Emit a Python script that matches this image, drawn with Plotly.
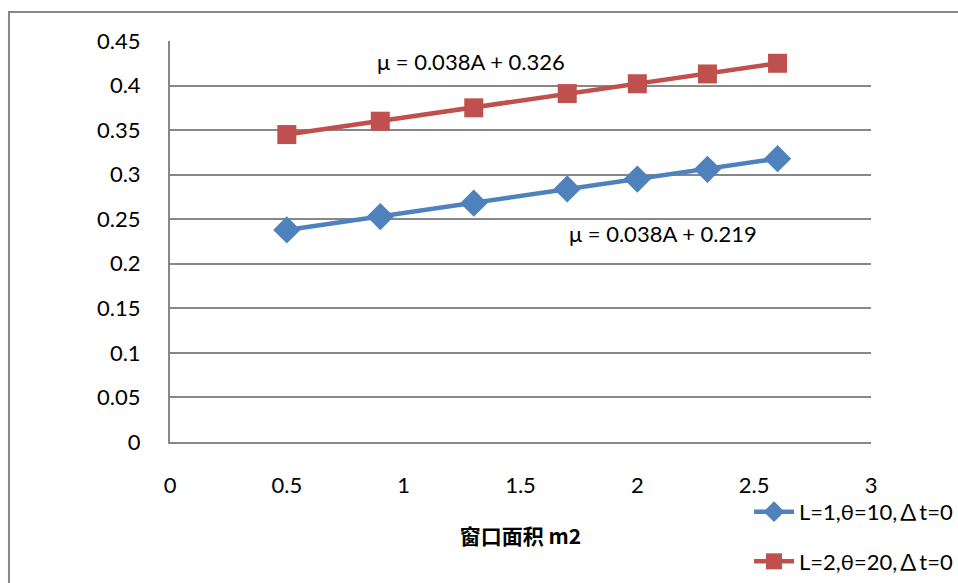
import plotly.graph_objects as go

# Window area (m2) and heat-transfer coefficient for two configurations
area = [0.5, 0.9, 1.3, 1.7, 2.0, 2.3, 2.6]
mu_case1 = [0.238, 0.253, 0.268, 0.284, 0.295, 0.306, 0.318]
mu_case2 = [0.345, 0.360, 0.375, 0.391, 0.402, 0.413, 0.425]
series_names = ["L=1,θ=10,∆t=0", "L=2,θ=20,∆t=0"]
fit_labels = ["μ = 0.038A + 0.219", "μ = 0.038A + 0.326"]
y_ticks = [0, 0.05, 0.1, 0.15, 0.2, 0.25, 0.3, 0.35, 0.4, 0.45]
x_ticks = [0, 0.5, 1, 1.5, 2, 2.5, 3]

BLUE = "#4F81BD"
RED = "#C0504D"
GRID = "#878787"
FONT = "Lato, 'Noto Sans CJK SC', sans-serif"
FS = 22

fig = go.Figure()
fig.add_trace(go.Scatter(
    x=area, y=mu_case1, mode="lines+markers", name=series_names[0],
    legendgroup="a",
    line=dict(color=BLUE, width=4.5),
    marker=dict(symbol="diamond", size=21, color=BLUE),
))
fig.add_trace(go.Scatter(
    x=area, y=mu_case2, mode="lines+markers", name=series_names[1],
    legendgroup="b",
    line=dict(color=RED, width=4.5),
    marker=dict(symbol="square", size=19, color=RED),
))

# Trend-line equations
fig.add_annotation(x=1.29, y=0.4265, text=fit_labels[1], showarrow=False,
                   xanchor="center", yanchor="middle",
                   font=dict(size=FS, color="#000000", family=FONT))
fig.add_annotation(x=2.11, y=0.2335, text=fit_labels[0], showarrow=False,
                   xanchor="center", yanchor="middle",
                   font=dict(size=FS, color="#000000", family=FONT))

# Outer chart frame
fig.add_shape(type="rect", xref="paper", yref="paper",
              x0=-0.2297, y0=-0.6, x1=1.3, y1=1.0723,
              line=dict(color=GRID, width=2), fillcolor="rgba(0,0,0,0)",
              layer="below")

fig.update_layout(
    width=958, height=583,
    margin=dict(l=170, r=87, t=41, b=141, autoexpand=False),
    paper_bgcolor="white", plot_bgcolor="white",
    font=dict(family=FONT, size=FS, color="#000000"),
    showlegend=True,
    legend=dict(
        x=0.826, y=-0.122, xanchor="left", yanchor="top",
        bgcolor="rgba(0,0,0,0)", font=dict(size=FS, family=FONT),
        tracegroupgap=18, traceorder="grouped", itemwidth=40,
    ),
    xaxis=dict(
        range=[0, 3], tickvals=x_ticks, ticktext=[f"{v:g}" for v in x_ticks],
        showgrid=False, zeroline=False, automargin=False,
        showline=True, linecolor=GRID, linewidth=2,
        ticks="", ticklabelstandoff=23,
        tickfont=dict(size=FS, family=FONT),
        title=dict(text="<b>窗口面积 m2</b>", standoff=32,
                   font=dict(size=21, family="'Noto Sans CJK SC', sans-serif")),
    ),
    yaxis=dict(
        range=[0, 0.45], tickvals=y_ticks, ticktext=[f"{v:g}" for v in y_ticks],
        showgrid=True, gridcolor=GRID, gridwidth=2, zeroline=False,
        showline=True, linecolor=GRID, linewidth=2, automargin=False,
        ticks="", ticklabelstandoff=23,
        tickfont=dict(size=FS, family=FONT),
    ),
)

fig.write_html("out.html")
